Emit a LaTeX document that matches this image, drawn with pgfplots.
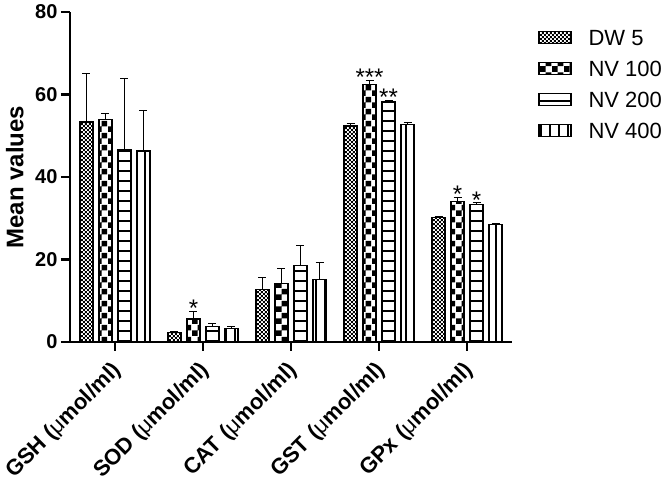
\documentclass[border=0pt]{standalone}
\usepackage{fontspec}
\setmainfont{Liberation Sans}
\usepackage{pgfplots}
\usepackage{pgfplotstable}
\pgfplotsset{compat=1.18}
\usetikzlibrary{patterns}

\pgfdeclarepatternformonly{finecheck}{\pgfpointorigin}{\pgfpoint{4.4pt}{4.4pt}}{\pgfpoint{4.4pt}{4.4pt}}{%
 \pgfpathrectangle{\pgfpointorigin}{\pgfpoint{2.2pt}{2.2pt}}%
 \pgfpathrectangle{\pgfpoint{2.2pt}{2.2pt}}{\pgfpoint{2.2pt}{2.2pt}}%
 \pgfusepath{fill}}
\pgfdeclarepatternformonly{coarsecheck}{\pgfpointorigin}{\pgfpoint{12pt}{12pt}}{\pgfpoint{12pt}{12pt}}{%
 \pgfpathrectangle{\pgfpointorigin}{\pgfpoint{6pt}{6pt}}%
 \pgfpathrectangle{\pgfpoint{6pt}{6pt}}{\pgfpoint{6pt}{6pt}}%
 \pgfusepath{fill}}
\pgfdeclarepatternformonly{hlines}{\pgfpoint{-2pt}{0pt}}{\pgfpoint{12pt}{10pt}}{\pgfpoint{10pt}{10pt}}{%
 \pgfpathrectangle{\pgfpoint{-2pt}{0pt}}{\pgfpoint{14pt}{1.5pt}}%
 \pgfusepath{fill}}
\pgfdeclarepatternformonly{vlines}{\pgfpoint{0pt}{-2pt}}{\pgfpoint{9pt}{11pt}}{\pgfpoint{9pt}{9pt}}{%
 \pgfpathrectangle{\pgfpoint{0pt}{-2pt}}{\pgfpoint{1.5pt}{13pt}}%
 \pgfusepath{fill}}

\pgfplotstableread{
x y e
0 53.3 11.9
1 2.3 0.3
2 12.7 3.0
3 52.4 0.6
4 30.1 0.4
}\dwfive
\pgfplotstableread{
x y e
0 54.0 1.3
1 5.6 1.8
2 14.1 3.7
3 62.5 0.9
4 34.1 1.0
}\nvone
\pgfplotstableread{
x y e
0 46.6 17.4
1 3.7 0.9
2 18.5 5.0
3 58.2 0.4
4 33.4 0.3
}\nvtwo
\pgfplotstableread{
x y e
0 46.3 9.9
1 3.2 0.5
2 15.1 4.1
3 52.8 0.3
4 28.5 0.2
}\nvfour

\begin{document}
\begin{tikzpicture}
\begin{axis}[
  scale only axis,
  width=442pt, height=330pt,
  ybar, bar width=13pt,
  xmin=-0.51, xmax=4.51,
  ymin=0, ymax=80,
  xtick={0,1,2,3,4},
  xticklabels={GSH ({\mdseries μ}mol/ml), SOD ({\mdseries μ}mol/ml), CAT\,\,({\mdseries μ}mol/ml), GST\,\,({\mdseries μ}mol/ml), GPx\,\,({\mdseries μ}mol/ml)},
  ytick={0,20,40,60,80},
  axis x line*=bottom, axis y line*=left,
  axis line style={line width=2.5pt},
  tick style={line width=2.5pt, black},
  tick align=outside,
  major tick length=9pt,
  /pgf/number format/assume math mode=true,
  yticklabel style={font=\bfseries\fontsize{20}{22}\selectfont},
  xticklabel style={font=\bfseries\fontsize{22}{24}\selectfont, inner sep=0pt, xshift=3pt, yshift=-16pt, rotate=45, anchor=east},
  ylabel={Mean values},
  ylabel style={font=\bfseries\fontsize{24}{26}\selectfont, at={(axis description cs:-0.125,0.5)}, anchor=center},
  legend style={draw=none, fill=none, at={(1.059,0.956)}, anchor=north west, inner sep=0pt,
     font=\fontsize{22}{24}\selectfont, row sep=9pt,
     nodes={inner sep=3pt, text height=16pt, text depth=0pt},
     /tikz/every odd column/.append style={column sep=14pt}},
  legend cell align=left,
  legend image code/.code={\draw[#1, line width=1.3pt] (0pt,-6pt) rectangle (32pt,6pt);},
  error bars/y dir=plus,
  error bars/y explicit,
  error bars/error bar style={line width=1pt, black},
  error bars/error mark options={line width=1pt, mark size=4pt, black, rotate=90},
]
\addplot[pattern=finecheck, draw=black, line width=1.3pt, bar shift=-28.5pt] table[x=x, y=y, y error=e]{\dwfive};
\addplot[pattern=coarsecheck, draw=black, line width=1.3pt, bar shift=-9.5pt] table[x=x, y=y, y error=e]{\nvone};
\addplot[pattern=hlines, draw=black, line width=1.3pt, bar shift=9.5pt] table[x=x, y=y, y error=e]{\nvtwo};
\addplot[pattern=vlines, draw=black, line width=1.3pt, bar shift=28.5pt] table[x=x, y=y, y error=e]{\nvfour};
\legend{DW 5, NV 100, NV 200, NV 400}
\addplot[draw=none, fill=none, bar shift=-9.5pt, forget plot, error bars/y dir=none,
  point meta=explicit symbolic, nodes near coords,
  nodes near coords style={anchor=base, inner sep=0pt, yshift=-5.5pt, font=\fontsize{24}{24}\selectfont}]
  coordinates {(1,7.4) [*] (3,63.4) [***] (4,35.1) [*]};
\addplot[draw=none, fill=none, bar shift=9.5pt, forget plot, error bars/y dir=none,
  point meta=explicit symbolic, nodes near coords,
  nodes near coords style={anchor=base, inner sep=0pt, yshift=-5.5pt, font=\fontsize{24}{24}\selectfont}]
  coordinates {(3,58.6) [**] (4,33.7) [*]};
\end{axis}
\pgfresetboundingbox
\path (current axis.south west) ++(-70pt,-150pt) rectangle ++(670pt,492pt);
\end{tikzpicture}
\end{document}
